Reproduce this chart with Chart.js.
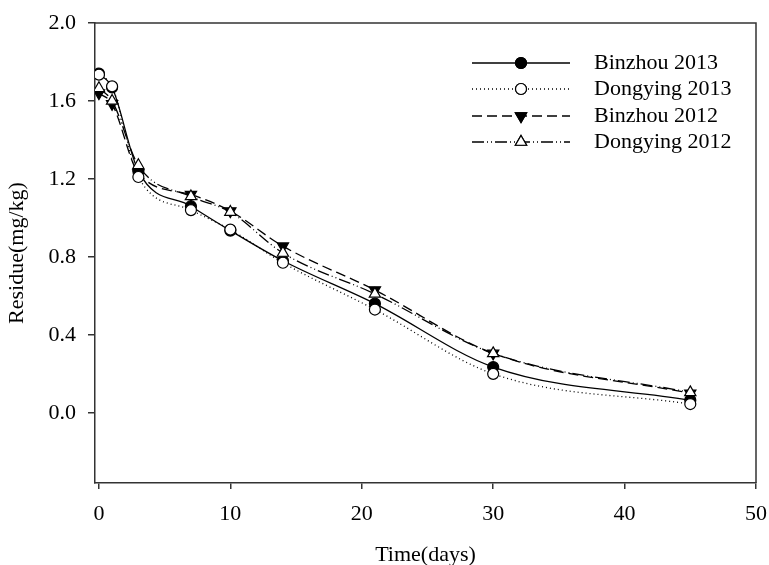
<!DOCTYPE html>
<html lang="en">
<head>
  <meta charset="UTF-8" />
  <title>Residue</title>
  <script src="https://cdn.jsdelivr.net/npm/chart.js"></script>
  <style>
    body { margin: 0; background: #fff; }
  </style>
</head>
<body>
  <canvas id="chart" width="769" height="565"></canvas>
  <script>
    // sampling days
    const days = [0, 1, 3, 7, 10, 14, 21, 30, 45];
    const binzhou2013 = [1.74, 1.67, 1.24, 1.06, 0.935, 0.78, 0.56, 0.235, 0.065];
    const dongying2013 = [1.735, 1.675, 1.21, 1.04, 0.94, 0.77, 0.53, 0.20, 0.045];
    const binzhou2012 = [1.64, 1.585, 1.23, 1.12, 1.035, 0.855, 0.63, 0.305, 0.10];
    const dongying2012 = [1.665, 1.60, 1.27, 1.11, 1.03, 0.82, 0.61, 0.305, 0.105];
    const seriesNames = ["Binzhou 2013", "Dongying 2013", "Binzhou 2012", "Dongying 2012"];
    const xTicks = [0, 10, 20, 30, 40, 50];
    const yTicks = [0, 0.4, 0.8, 1.2, 1.6, 2.0];

    const FONT = "'Liberation Serif', 'Times New Roman', serif";
    const FS = 22;
    const AXIS = "#333";

    function pts(vals) {
      return days.map((d, i) => ({ x: d, y: vals[i] }));
    }

    const styles = [
      { dash: [], style: "circle", fill: "#000", rot: 0, r: 5.5 },
      { dash: [1, 3], style: "circle", fill: "#fff", rot: 0, r: 5.5 },
      { dash: [10, 5], style: "triangle", fill: "#000", rot: 180, r: 6.5 },
      { dash: [12, 3, 1, 3, 1, 3], style: "triangle", fill: "#fff", rot: 0, r: 6.5 }
    ];
    const values = [binzhou2013, dongying2013, binzhou2012, dongying2012];
    const orders = [4, 2, 3, 1];

    const datasets = values.map((v, i) => ({
      label: seriesNames[i],
      data: pts(v),
      borderColor: "#000",
      borderWidth: 1.3,
      borderDash: styles[i].dash,
      cubicInterpolationMode: "monotone",
      pointStyle: styles[i].style,
      pointRotation: styles[i].rot,
      pointRadius: styles[i].r,
      pointBackgroundColor: styles[i].fill,
      pointBorderColor: "#000",
      pointBorderWidth: 1.2,
      fill: false,
      order: orders[i]
    }));

    // box around plot + legend drawn like the original
    const framePlugin = {
      id: "frame",
      afterDraw(chart) {
        const ctx = chart.ctx;
        const a = chart.chartArea;
        ctx.save();
        ctx.strokeStyle = AXIS;
        ctx.lineWidth = 1.5;
        ctx.beginPath();
        ctx.moveTo(a.left, a.top);
        ctx.lineTo(a.right, a.top);
        ctx.lineTo(a.right, a.bottom);
        ctx.stroke();

        // legend
        const x0 = 472, x1 = 570, tx = 594;
        const rows = [63, 89, 116, 142];
        ctx.font = FS + "px " + FONT;
        ctx.textBaseline = "middle";
        ctx.fillStyle = "#000";
        rows.forEach((y, i) => {
          const s = styles[i];
          ctx.setLineDash(s.dash);
          ctx.strokeStyle = "#000";
          ctx.lineWidth = 1.3;
          ctx.beginPath();
          ctx.moveTo(x0, y);
          ctx.lineTo(x1, y);
          ctx.stroke();
          ctx.setLineDash([]);
          ctx.lineWidth = 1.2;
          Chart.helpers.drawPoint(ctx, {
            pointStyle: s.style, rotation: s.rot, radius: s.r, borderWidth: 1.2
          }, (x0 + x1) / 2, y);
          ctx.fillStyle = s.fill;
          ctx.fill();
          ctx.stroke();
          ctx.fillStyle = "#000";
          ctx.fillText(seriesNames[i], tx, y);
        });
        ctx.restore();
      }
    };

    new Chart(document.getElementById("chart"), {
      type: "line",
      data: { datasets },
      plugins: [framePlugin],
      options: {
        responsive: false,
        animation: false,
        devicePixelRatio: 1,
        layout: { padding: { top: 23, right: 13, left: 0, bottom: 0 } },
        plugins: { legend: { display: false }, tooltip: { enabled: false } },
        scales: {
          x: {
            type: "linear",
            min: -0.3,
            max: 50,
            afterBuildTicks: s => { s.ticks = xTicks.map(v => ({ value: v })); },
            afterFit: s => { s.height = 82; s.paddingLeft = 0; s.paddingRight = 0; },
            grid: { drawOnChartArea: false, drawTicks: true, tickLength: 6, color: AXIS, lineWidth: 1.5 },
            border: { display: true, color: AXIS, width: 1.5 },
            ticks: { color: "#000", font: { family: FONT, size: FS }, padding: 12, maxRotation: 0 },
            title: { display: true, text: "Time(days)", color: "#000", font: { family: FONT, size: FS }, padding: { top: 4, bottom: -3 } }
          },
          y: {
            type: "linear",
            min: -0.36,
            max: 2.0,
            afterBuildTicks: s => { s.ticks = yTicks.map(v => ({ value: v })); },
            afterFit: s => { s.width = 95; s.paddingTop = 0; s.paddingBottom = 0; },
            grid: { drawOnChartArea: false, drawTicks: true, tickLength: 7, color: AXIS, lineWidth: 1.5 },
            border: { display: true, color: AXIS, width: 1.5 },
            ticks: { color: "#000", font: { family: FONT, size: FS }, padding: 12, callback: v => v.toFixed(1) },
            title: { display: true, text: "Residue(mg/kg)", color: "#000", font: { family: FONT, size: FS }, padding: { top: 4, bottom: 0 } }
          }
        }
      }
    });
  </script>
</body>
</html>
